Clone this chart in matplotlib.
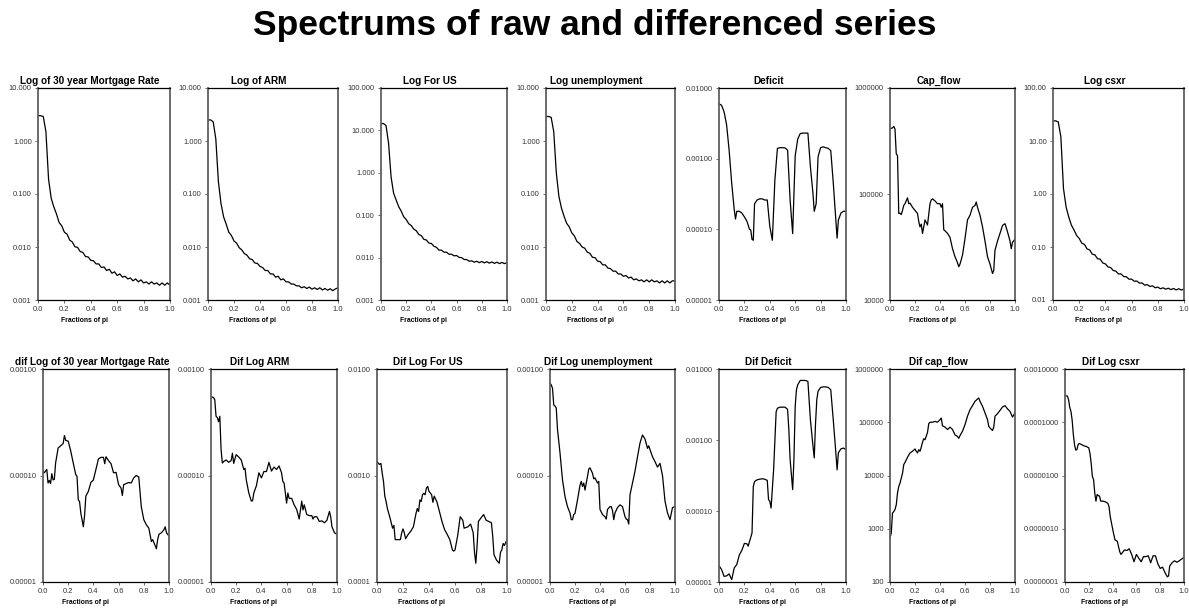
import numpy as np
import matplotlib
matplotlib.use("Agg")
import matplotlib.pyplot as plt
from matplotlib.ticker import FixedLocator, FormatStrFormatter, NullLocator

plt.rcParams['font.family'] = ['Liberation Sans', 'DejaVu Sans']

# frequency grid (fractions of pi) used by the smooth raw-series spectra
freq = np.linspace(0.0, 1.0, 51)

# ---- raw series ----
log_mort = [3.0, 3.0, 2.9, 1.5, 0.19, 0.083, 0.057, 0.042, 0.029, 0.025, 0.019,
            0.0175, 0.0135, 0.0124, 0.0101, 0.0098, 0.0082, 0.0079, 0.0066, 0.0065, 0.0056,
            0.0055, 0.0048, 0.0048, 0.0041, 0.0042, 0.0036, 0.0038, 0.0032, 0.0034, 0.0029,
            0.0031, 0.0027, 0.0028, 0.0025, 0.0026, 0.0023, 0.0025, 0.0022, 0.0024, 0.0021,
            0.0022, 0.0020, 0.0022, 0.0020, 0.0021, 0.0019, 0.0021, 0.0019, 0.0021, 0.0019]
log_arm = [2.5, 2.5, 2.3, 1.1, 0.17, 0.066, 0.037, 0.027, 0.019, 0.0165, 0.0130,
           0.0118, 0.0097, 0.0088, 0.0075, 0.0070, 0.0060, 0.0058, 0.0050, 0.0049, 0.0043,
           0.0041, 0.0036, 0.0036, 0.0031, 0.0031, 0.0027, 0.0028, 0.0024, 0.0025, 0.0022,
           0.0022, 0.0020, 0.0020, 0.00185, 0.00185, 0.0017, 0.00178, 0.00165, 0.00175, 0.0016,
           0.0017, 0.00158, 0.0017, 0.00155, 0.00165, 0.00153, 0.00163, 0.0015, 0.00162, 0.0017]
log_forus = [14.5, 14.5, 13.0, 5.0, 0.8, 0.33, 0.23, 0.16, 0.125, 0.092, 0.079,
             0.063, 0.057, 0.047, 0.043, 0.035, 0.033, 0.027, 0.026, 0.022, 0.0215,
             0.0185, 0.0175, 0.015, 0.015, 0.0134, 0.0134, 0.012, 0.012, 0.011, 0.0112,
             0.0101, 0.0100, 0.0090, 0.0090, 0.0082, 0.0084, 0.0078, 0.0082, 0.0076, 0.0081,
             0.0075, 0.0080, 0.0074, 0.0079, 0.0073, 0.0078, 0.0072, 0.0077, 0.0072, 0.0076]
log_unemp = [2.9, 2.9, 2.8, 1.5, 0.25, 0.09, 0.054, 0.038, 0.028, 0.024, 0.0185,
             0.0162, 0.0127, 0.0117, 0.0100, 0.0095, 0.0080, 0.0076, 0.0064, 0.0063, 0.0054,
             0.0053, 0.0046, 0.0046, 0.0040, 0.0039, 0.0035, 0.0035, 0.0031, 0.0031, 0.0028,
             0.0029, 0.0026, 0.0027, 0.0024, 0.0025, 0.0023, 0.0024, 0.0022, 0.0024, 0.0022,
             0.0024, 0.0022, 0.0023, 0.0021, 0.0023, 0.0021, 0.0023, 0.0021, 0.0023, 0.0023]
log_csxr = [24, 24, 23, 12, 1.27, 0.57, 0.37, 0.26, 0.21, 0.165, 0.145,
            0.118, 0.112, 0.092, 0.088, 0.073, 0.071, 0.060, 0.059, 0.050, 0.048,
            0.042, 0.041, 0.036, 0.035, 0.031, 0.031, 0.0277, 0.0275, 0.0247, 0.0248,
            0.0226, 0.0228, 0.0208, 0.021, 0.019, 0.0195, 0.0180, 0.0185, 0.0170, 0.0175,
            0.0163, 0.0170, 0.0160, 0.0167, 0.0157, 0.0165, 0.0155, 0.0163, 0.0154, 0.0162]

deficit_x = [0.00, 0.02, 0.04, 0.06, 0.08, 0.10, 0.12, 0.13, 0.14, 0.16,
             0.18, 0.20, 0.22, 0.24, 0.25, 0.26, 0.27, 0.28, 0.30, 0.32,
             0.34, 0.36, 0.38, 0.40, 0.42, 0.44, 0.46, 0.48, 0.50, 0.52,
             0.54, 0.56, 0.58, 0.60, 0.62, 0.64, 0.66, 0.68, 0.70, 0.72,
             0.74, 0.75, 0.765, 0.78, 0.80, 0.82, 0.84, 0.86, 0.88, 0.90,
             0.92, 0.93, 0.94, 0.96, 0.98, 1.00]
deficit = np.array([600, 570, 460, 300, 130, 45, 19, 14, 18, 18,
                    17, 15, 13, 10, 9.8, 7.2, 7.0, 23, 26, 27,
                    27, 26, 26, 11, 7.0, 50, 140, 143, 143, 142,
                    132, 26, 8.7, 110, 190, 227, 230, 230, 230, 76,
                    32, 18, 23, 106, 143, 147, 143, 140, 130, 45,
                    13.5, 7.5, 13.5, 17, 18, 18]) * 1e-5

capflow_x = [0.00, 0.02, 0.03, 0.04, 0.05, 0.06, 0.07, 0.08, 0.09, 0.10,
             0.11, 0.12, 0.14, 0.15, 0.16, 0.18, 0.20, 0.22, 0.23, 0.24,
             0.25, 0.26, 0.27, 0.28, 0.30, 0.32, 0.33, 0.34, 0.36, 0.38,
             0.40, 0.41, 0.42, 0.43, 0.44, 0.46, 0.48, 0.50, 0.52, 0.54,
             0.55, 0.56, 0.58, 0.60, 0.62, 0.64, 0.66, 0.68, 0.69, 0.70,
             0.72, 0.74, 0.76, 0.78, 0.80, 0.82, 0.83, 0.84, 0.86, 0.88,
             0.90, 0.92, 0.94, 0.96, 0.97, 0.98, 1.00]
capflow = np.array([414, 420, 435, 410, 240, 230, 65.5, 66, 64, 70,
                    78, 81, 92, 81, 82, 75, 70, 65.5, 55, 49,
                    52, 42.5, 49, 57, 51, 81, 88, 90, 86, 81,
                    81, 75, 81, 46, 45, 42.5, 39, 30.5, 25.6, 22.5,
                    20.6, 21.8, 26.5, 38, 57, 63, 75, 78, 84, 75,
                    63, 49, 36, 25.6, 21.8, 17.8, 19, 29.5, 36, 42.5,
                    50.5, 52.5, 44, 36, 30.5, 35, 37.5]) * 1e3

# ---- differenced series ----
dmort_x = [0.00, 0.01, 0.02, 0.03, 0.04, 0.05, 0.06, 0.07, 0.08, 0.09, 0.10,
           0.12, 0.14, 0.16, 0.17, 0.18, 0.20, 0.22, 0.24, 0.26, 0.27,
           0.28, 0.29, 0.30, 0.32, 0.33, 0.34, 0.36, 0.38, 0.40, 0.42,
           0.44, 0.46, 0.48, 0.49, 0.50, 0.52, 0.54, 0.56, 0.58, 0.60,
           0.62, 0.63, 0.64, 0.66, 0.68, 0.70, 0.72, 0.74, 0.76, 0.78,
           0.80, 0.82, 0.84, 0.86, 0.87, 0.88, 0.89, 0.90, 0.91, 0.92,
           0.94, 0.96, 0.97, 0.98, 1.00]
dmort = np.array([10.9, 10.6, 11.0, 11.4, 8.5, 9.0, 8.4, 10.4, 9.1, 9.2, 13.1,
                  18.1, 19.0, 20.0, 23.7, 21.4, 21.0, 17.0, 13.1, 10.2, 9.8,
                  5.9, 5.7, 4.45, 3.3, 4.2, 6.4, 7.1, 8.6, 9.1, 11.4,
                  14.3, 14.8, 14.8, 12.9, 15.0, 13.8, 12.9, 10.6, 10.7, 8.2,
                  7.6, 6.5, 8.2, 8.4, 8.6, 8.5, 9.5, 10.0, 9.7, 5.1,
                  3.85, 3.45, 3.2, 2.4, 2.5, 2.35, 2.2, 2.05, 2.5, 2.8,
                  2.9, 3.1, 3.3, 2.9, 2.7]) * 1e-5

darm_x = [0.00, 0.02, 0.03, 0.04, 0.05, 0.06, 0.07, 0.08, 0.09, 0.10,
          0.12, 0.14, 0.16, 0.17, 0.18, 0.20, 0.22, 0.24, 0.26, 0.27,
          0.28, 0.30, 0.32, 0.33, 0.34, 0.36, 0.38, 0.40, 0.42, 0.44,
          0.46, 0.48, 0.50, 0.52, 0.54, 0.56, 0.57, 0.58, 0.60, 0.61,
          0.62, 0.64, 0.66, 0.68, 0.70, 0.72, 0.73, 0.74, 0.76, 0.78,
          0.80, 0.81, 0.82, 0.84, 0.86, 0.88, 0.90, 0.92, 0.94, 0.95,
          0.96, 0.98, 1.00]
darm = np.array([55, 54, 51.5, 36, 35, 32, 36, 17.5, 13.1, 13.5,
                 14.0, 13.3, 13.8, 16.2, 13.0, 15.7, 14.9, 14.0, 11.4, 11.7,
                 9.1, 6.85, 5.75, 5.8, 6.85, 8.0, 10.6, 9.5, 10.9, 10.9,
                 13.3, 11.0, 12.0, 11.4, 12.3, 10.6, 8.8, 8.5, 5.5, 6.85,
                 6.1, 6.1, 5.3, 4.8, 3.9, 5.75, 4.75, 5.3, 4.3, 4.2,
                 4.2, 3.9, 4.1, 4.1, 3.7, 3.75, 3.6, 3.8, 4.6, 4.1,
                 3.3, 2.9, 2.8]) * 1e-5

dforus_x = [0.00, 0.01, 0.02, 0.03, 0.04, 0.05, 0.06, 0.07, 0.08,
            0.10, 0.12, 0.13, 0.14, 0.16, 0.18, 0.19, 0.20, 0.21, 0.22,
            0.24, 0.26, 0.28, 0.30, 0.31, 0.32, 0.33, 0.34, 0.35, 0.36,
            0.37, 0.38, 0.39, 0.40, 0.42, 0.43, 0.44, 0.46, 0.48, 0.50,
            0.52, 0.54, 0.56, 0.58, 0.59, 0.60, 0.62, 0.64, 0.66, 0.67,
            0.70, 0.72, 0.74, 0.75, 0.76, 0.77, 0.78, 0.80, 0.82, 0.84,
            0.86, 0.88, 0.89, 0.90, 0.92, 0.94, 0.95, 0.96, 0.97, 0.98,
            1.00]
dforus = np.array([13.6, 13.0, 12.7, 13.0, 10.5, 8.8, 6.4, 5.7, 4.9,
                   4.0, 3.2, 3.4, 2.5, 2.5, 2.5, 2.9, 3.15, 2.9, 2.55,
                   2.8, 3.0, 3.3, 4.4, 4.9, 4.6, 5.9, 5.7, 6.6, 6.8,
                   6.6, 7.6, 7.9, 7.1, 6.6, 5.6, 6.4, 5.7, 4.6, 3.7,
                   3.1, 2.8, 2.5, 2.0, 1.95, 2.0, 2.7, 4.1, 3.8, 3.2,
                   3.3, 3.5, 2.9, 1.9, 1.5, 2.2, 3.7, 4.0, 4.3, 3.8,
                   3.7, 3.6, 2.7, 1.8, 1.6, 1.5, 1.9, 2.0, 2.3, 2.2,
                   2.5]) * 1e-4

dunemp_x = [0.00, 0.01, 0.02, 0.03, 0.04, 0.05, 0.06,
            0.08, 0.10, 0.12, 0.14, 0.16, 0.17, 0.18, 0.19, 0.20, 0.22,
            0.24, 0.25, 0.26, 0.27, 0.28, 0.30, 0.31, 0.32, 0.34, 0.35,
            0.36, 0.38, 0.39, 0.40, 0.42, 0.44, 0.45, 0.46, 0.48, 0.49,
            0.50, 0.51, 0.52, 0.54, 0.56, 0.58, 0.60, 0.61, 0.62, 0.63,
            0.64, 0.66, 0.68, 0.70, 0.72, 0.74, 0.75, 0.76, 0.78, 0.79,
            0.80, 0.82, 0.84, 0.86, 0.88, 0.90, 0.92, 0.94, 0.96, 0.98,
            1.00]
dunemp = np.array([74, 71, 66, 46, 45, 43, 27,
                   16.3, 9.1, 6.35, 5.1, 4.45, 3.85, 3.85, 4.3, 4.4, 5.9,
                   8.1, 8.8, 7.9, 8.5, 7.3, 9.8, 11.5, 11.8, 10.5, 9.3,
                   9.5, 8.5, 8.8, 4.8, 4.3, 4.1, 3.9, 4.8, 5.1, 5.1,
                   4.7, 3.85, 4.45, 5.0, 5.3, 5.1, 4.1, 3.9, 3.85, 3.5,
                   6.6, 8.5, 11.0, 15.0, 20.2, 24.0, 23.0, 22.0, 18.0, 19.0,
                   17.5, 15.0, 13.5, 12.0, 13.0, 10.0, 5.75, 4.45, 3.85, 5.0,
                   5.1]) * 1e-5

ddef_x = [0.00, 0.02, 0.04, 0.06, 0.08, 0.10, 0.12, 0.14, 0.16, 0.18, 0.20, 0.22,
          0.23, 0.24, 0.26, 0.27, 0.28, 0.30, 0.32, 0.34,
          0.36, 0.38, 0.39, 0.40, 0.41, 0.43, 0.45, 0.46, 0.48, 0.50,
          0.52, 0.54, 0.55, 0.56, 0.58, 0.59, 0.60, 0.61, 0.62, 0.64,
          0.66, 0.68, 0.70, 0.72, 0.74, 0.75, 0.76, 0.77, 0.78, 0.80,
          0.82, 0.84, 0.86, 0.88, 0.90, 0.92, 0.93, 0.94, 0.96, 0.98,
          1.00]
ddef = np.array([1.7, 1.5, 1.2, 1.22, 1.3, 1.08, 1.58, 1.76, 2.4, 2.8, 3.5, 3.45,
                 3.2, 3.7, 4.9, 22, 26, 27.5, 28, 28.5,
                 28, 27, 14.5, 13.7, 11, 38, 250, 280, 290, 290,
                 290, 270, 140, 53, 20, 53, 300, 510, 600, 690,
                 690, 690, 670, 190, 82, 56, 170, 370, 485, 550,
                 560, 560, 550, 510, 190, 66, 38, 66, 75, 77,
                 73]) * 1e-5

dcap_x = [0.00, 0.01, 0.02, 0.03, 0.04, 0.05, 0.06, 0.07, 0.08,
          0.10, 0.11, 0.12, 0.14, 0.16, 0.18, 0.20, 0.21, 0.22, 0.23,
          0.24, 0.25, 0.26, 0.27, 0.28, 0.30, 0.31, 0.32, 0.34, 0.36,
          0.38, 0.40, 0.41, 0.42, 0.44, 0.46, 0.48, 0.50, 0.52, 0.54,
          0.55, 0.56, 0.58, 0.60, 0.62, 0.64, 0.66, 0.68, 0.70, 0.71,
          0.72, 0.74, 0.76, 0.78, 0.79, 0.80, 0.82, 0.83, 0.84, 0.86,
          0.88, 0.90, 0.92, 0.94, 0.96, 0.98, 1.00]
dcap = np.array([0.67, 0.83, 1.98, 2.1, 2.3, 2.8, 4.7, 6.2, 7.2,
                 11, 16, 17.6, 22, 26.5, 28.5, 31.5, 28.5, 26.5, 30.5,
                 28.5, 34, 42, 49, 47, 64, 94, 100, 100, 104,
                 100, 112, 120, 86, 81, 73, 81, 73, 58, 54,
                 50, 56, 68, 90, 130, 172, 205, 247, 273, 285,
                 247, 200, 150, 112, 84, 78, 70, 81, 130, 145,
                 167, 193, 205, 178, 160, 125, 150]) * 1e3

dcsxr_x = [0.00, 0.02, 0.03, 0.04, 0.05, 0.06, 0.07, 0.08, 0.09, 0.10,
           0.11, 0.12, 0.14, 0.16, 0.18, 0.20, 0.21, 0.22, 0.23, 0.24,
           0.25, 0.26, 0.27, 0.28, 0.29, 0.30, 0.32, 0.34, 0.36, 0.37,
           0.38, 0.40, 0.41, 0.42, 0.44, 0.45, 0.46, 0.47, 0.48, 0.50,
           0.52, 0.54, 0.56, 0.58, 0.60, 0.62, 0.64, 0.66, 0.68, 0.70,
           0.72, 0.74, 0.76, 0.78, 0.80, 0.82, 0.84, 0.86, 0.87, 0.88,
           0.90, 0.92, 0.94, 0.96, 0.98, 1.00]
dcsxr = np.array([3160, 3100, 2650, 1900, 1600, 1100, 590, 380, 300, 305,
                  380, 400, 380, 360, 350, 330, 260, 170, 96, 84,
                  47, 33, 44, 42, 41, 33, 33, 32, 30, 26,
                  17, 10, 7.8, 6.2, 5.8, 4.6, 3.7, 3.3, 3.5, 4.0,
                  3.9, 4.2, 3.3, 2.4, 3.3, 2.8, 2.4, 3.0, 3.0, 3.1,
                  2.3, 3.1, 3.1, 2.2, 1.8, 1.9, 1.5, 1.25, 1.3, 2.0,
                  2.3, 2.5, 2.35, 2.5, 2.7, 2.9]) * 1e-7

titles_top = ['Log of 30 year Mortgage Rate', 'Log of ARM', 'Log For US',
              'Log unemployment', 'Deficit', 'Cap_flow', 'Log csxr']
titles_bot = ['dif Log of 30 year Mortgage Rate', 'Dif Log ARM', 'Dif Log For US',
              'Dif Log unemployment', 'Dif Deficit', 'Dif cap_flow', 'Dif Log csxr']

series_top = [(freq, log_mort), (freq, log_arm), (freq, log_forus), (freq, log_unemp),
              (deficit_x, deficit), (capflow_x, capflow), (freq, log_csxr)]
series_bot = [(dmort_x, dmort), (darm_x, darm), (dforus_x, dforus), (dunemp_x, dunemp),
              (ddef_x, ddef), (dcap_x, dcap), (dcsxr_x, dcsxr)]

# y range in decades and tick label format per panel
ylim_top = [(-3, 1), (-3, 1), (-3, 2), (-3, 1), (-5, -2), (4, 6), (-2, 2)]
yfmt_top = ['%.3f', '%.3f', '%.3f', '%.3f', '%.5f', '%d', '%.2f']
ylim_bot = [(-5, -3), (-5, -3), (-4, -2), (-5, -3), (-5, -2), (2, 6), (-7, -3)]
yfmt_bot = ['%.5f', '%.5f', '%.4f', '%.5f', '%.5f', '%d', '%.7f']

# axes pixel extents (left, right) for each column, per row
W, H = 1189, 609
cols_top = [(38, 170), (208, 338), (381, 507), (546, 675), (719, 846), (890, 1015), (1053, 1184)]
cols_bot = [(43, 169), (211, 337), (377, 507), (550, 675), (719, 846), (890, 1015), (1065, 1184)]
rows = [(88, 300), (369, 582)]

fig = plt.figure(figsize=(W / 100, H / 100), dpi=100)
fig.text(0.5, 1 - 26 / H, 'Spectrums of raw and differenced series',
         ha='center', va='center', fontsize=25.5, fontweight='bold')


def draw(ax, x, y, title, lim, fmt, wpx):
    ax.plot(x, y, color='black', linewidth=0.9)
    ax.set_yscale('log')
    ax.set_ylim(10.0 ** lim[0], 10.0 ** lim[1])
    ax.set_xlim(0, 1)
    ax.yaxis.set_major_locator(FixedLocator([10.0 ** k for k in range(lim[0], lim[1] + 1)]))
    ax.yaxis.set_major_formatter(FormatStrFormatter(fmt))
    ax.yaxis.set_minor_locator(NullLocator())
    ax.set_xticks([0.0, 0.2, 0.4, 0.6, 0.8, 1.0])
    ax.xaxis.set_major_formatter(FormatStrFormatter('%.1f'))
    ax.tick_params(axis='both', labelsize=5.4, length=2.5, width=0.6,
                   colors='#555555', labelcolor='#333333', pad=2)
    # title and x label are centred on the whole cell (incl. tick labels)
    ax.set_title(title, fontsize=7.2, fontweight='bold', pad=3, x=0.5 - 14 / wpx)
    ax.set_xlabel('Fractions of pi', fontsize=4.9, fontweight='bold', labelpad=3)
    ax.xaxis.label.set_x(0.5 - 20 / wpx)
    for side in ('left', 'right'):
        ax.spines[side].set_color('#606060')
        ax.spines[side].set_linewidth(1.3)
    for side in ('top', 'bottom'):
        ax.spines[side].set_color('black')
        ax.spines[side].set_linewidth(0.9)


for r, (cols, series, titles, lims, fmts) in enumerate([
        (cols_top, series_top, titles_top, ylim_top, yfmt_top),
        (cols_bot, series_bot, titles_bot, ylim_bot, yfmt_bot)]):
    top, bot = rows[r]
    for c in range(7):
        l, rr = cols[c]
        ax = fig.add_axes([l / W, 1 - bot / H, (rr - l) / W, (bot - top) / H])
        x, y = series[c]
        draw(ax, x, y, titles[c], lims[c], fmts[c], rr - l)

fig.savefig('out.png', dpi=100)
